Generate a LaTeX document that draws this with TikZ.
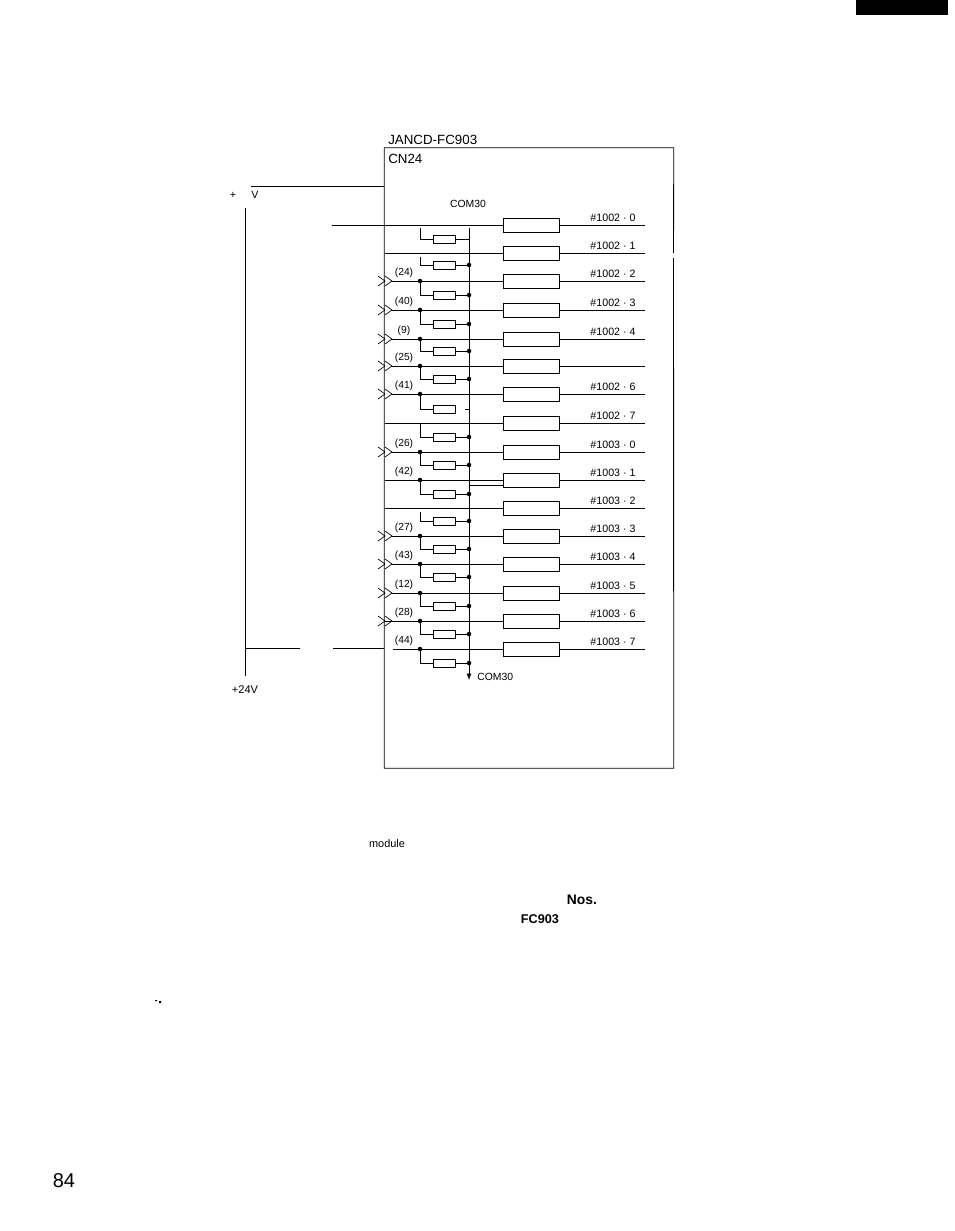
\documentclass[tikz,border=0pt]{standalone}
\usepackage{fontspec}
\setmainfont{Liberation Sans}
\usetikzlibrary{arrows,shapes,positioning}
\tikzstyle{wire}=[draw,line width=0.65pt,-]
\tikzstyle{unit}=[rectangle,draw,line width=0.65pt,minimum width=42.5pt,minimum height=10.5pt,inner sep=0pt]
\tikzstyle{resistor}=[rectangle,draw,line width=0.65pt,minimum width=17pt,minimum height=6pt,inner sep=0pt]
\tikzstyle{junction}=[circle,fill=black,minimum size=3.4pt,inner sep=0pt]
\tikzstyle{pinno}=[font=\fontsize{7.7}{9}\selectfont,inner sep=0pt]
\tikzstyle{bitno}=[font=\fontsize{8}{9}\selectfont,inner sep=0pt]
\begin{document}
\begin{tikzpicture}[x=0.75pt,y=-0.75pt]
\useasboundingbox (0,0) rectangle (954,1231);

% First we draw the board frame and its texts
\node[minimum width=216.75pt,minimum height=465pt,inner sep=0pt] (frame) at (529,458) {};
\coordinate (gaptop) at (673.5,253);
\coordinate (gapbot) at (673.5,258);
\draw[line width=0.65pt] (gaptop) -- (frame.north east) -- (frame.north west) -- (frame.south west) -- (frame.south east) -- (gapbot);
\node[anchor=west,inner sep=0pt,font=\fontsize{10}{12}\selectfont] (board) at (388,140) {JANCD-FC903};
\node[anchor=west,inner sep=0pt,font=\fontsize{10}{12}\selectfont] (conn) at (388,159) {CN24};
\node[font=\fontsize{7.8}{9}\selectfont,inner sep=0pt] (comtop) at (468,204) {COM30};
\node[anchor=west,font=\fontsize{7.8}{9}\selectfont,inner sep=0pt] (combot) at (477,677) {COM30};

% Then the units, one for each row
\foreach \y / \name in {{225/0},{253/1},{281/2},{310/3},{339/4},{366/5},{394/6},{423/7},
{452/8},{480/9},{508/10},{536/11},{564/12},{593/13},{621/14},{649/15}}
{
\node[unit] (u\name) at (531.5,\y) {};
\coordinate (out\name) at (645,\y);
\path[wire] (u\name) -- (out\name);
}
\foreach \y / \name / \txt in {{225/0/\#1002 · 0},{253/1/\#1002 · 1},{281/2/\#1002 · 2},{310/3/\#1002 · 3},
{339/4/\#1002 · 4},{394/6/\#1002 · 6},{423/7/\#1002 · 7},{452/8/\#1003 · 0},{480/9/\#1003 · 1},
{508/10/\#1003 · 2},{536/11/\#1003 · 3},{564/12/\#1003 · 4},{593/13/\#1003 · 5},{621/14/\#1003 · 6},
{649/15/\#1003 · 7}}
\node[bitno] (b\name) at (613,\y-7) {\txt};

% Input side: start of each line
\foreach \y / \name / \xs in {{225/0/332},{253/1/384.5},{281/2/392},{310/3/392},{339/4/392},{366/5/392},
{394/6/392},{423/7/384.5},{452/8/392},{480/9/384.5},{508/10/384.5},{536/11/392},{564/12/392},
{593/13/392},{621/14/384.5},{649/15/393}}
{
\coordinate (in\name) at (\xs,\y);
\path[wire] (in\name) -- (u\name);
}

% The double arrows at the connector
\foreach \y in {281,310,339,366,394,452,536,564,593,621}
\draw[line width=0.5pt] (378,\y-5) -- (385,\y) -- (378,\y+5) (385,\y-5) -- (392,\y) -- (385,\y+5);

% Pin numbers
\foreach \y / \name / \txt in {{281/2/(24)},{310/3/(40)},{339/4/(9)},{366/5/(25)},{394/6/(41)},{452/8/(26)},
{480/9/(42)},{536/11/(27)},{564/12/(43)},{593/13/(12)},{621/14/(28)},{649/15/(44)}}
\node[pinno] (p\name) at (404,\y-8) {\txt};

% Common line
\coordinate (comstart) at (469,228);
\coordinate (comend) at (469,680);
\path[wire,-latex] (comstart) -- (comend);

% Resistors with their branches
\foreach \y / \ytap / \name in {{239/228/0},{265/257/1},{295/281/2},{324/310/3},{351/339/4},{379/366/5},
{409/394/6},{437/423/7},{465/452/8},{494/480/9},{521/512/10},{549/536/11},{577/564/12},{606/593/13},
{634/621/14},{663/649/15}}
{
\node[resistor] (r\name) at (444.5,\y) {};
\coordinate (t\name) at (420,\ytap);
\coordinate (c\name) at (469,\y);
\path[wire] (t\name) |- (r\name);
}
\foreach \name in {0,1,2,3,4,5,7,8,9,10,11,12,13,14,15}
\path[wire] (r\name) -- (c\name);
\coordinate (bitleft) at (465,409);
\path[wire] (bitleft) -- (c6);

% Dots where the lines meet
\foreach \name in {2,3,4,5,6,8,9,11,12,13,14,15}
\node[junction] at (t\name) {};
\foreach \name in {1,2,3,4,5,7,8,9,10,11,12,13,14,15}
\node[junction] at (c\name) {};

% Second line into the unit of row 9
\coordinate (extra) at (469,485);
\path[wire] (extra) -- (extra -| u9.west);

% The supply on the left
\node[inner sep=0pt,font=\fontsize{8}{9}\selectfont] (plustop) at (233,195) {+};
\node[inner sep=0pt,font=\fontsize{8}{9}\selectfont] (vtop) at (255,195) {V};
\node[inner sep=0pt,font=\fontsize{8.3}{9}\selectfont] (plusbot) at (245,690) {+24V};
\coordinate (railtop) at (245,208);
\coordinate (railbot) at (245,676);
\coordinate (feedtop) at (251,186);
\coordinate (feedleft) at (245,648);
\coordinate (feedmid) at (300,648);
\coordinate (feedright) at (333,648);
\path[wire] (railtop) -- (railbot);
\path[wire] (feedtop) -- (feedtop -| frame.west);
\path[wire] (feedleft) -- (feedmid);
\path[wire] (feedright) -- (feedright -| frame.west);

% Other bits of the page
\node[inner sep=0pt,font=\fontsize{8.2}{10}\selectfont] (modtxt) at (387,844) {module};
\node[inner sep=0pt,font=\bfseries\fontsize{10.4}{12}\selectfont] (nostxt) at (582,900) {Nos.};
\node[inner sep=0pt,font=\bfseries\fontsize{9.5}{12}\selectfont] (fctxt) at (540,919) {FC903};
\node[inner sep=0pt,font=\fontsize{15}{18}\selectfont] (pageno) at (64,1181) {84};
\fill (856,0) rectangle (948,15);
\fill (155,1000) rectangle (157,1001) (159,1001) rectangle (161,1003);

\end{tikzpicture}
\end{document}
